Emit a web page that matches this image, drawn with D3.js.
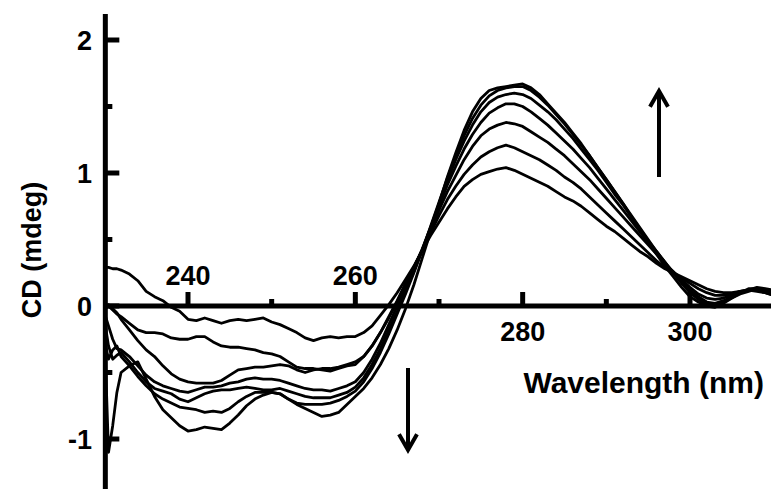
<!DOCTYPE html>
<html>
<head>
<meta charset="utf-8">
<script src="https://cdn.jsdelivr.net/npm/d3@7"></script>
<style>
  body { margin: 0; background: #fff; }
  svg { display: block; }
  text { font-family: "Liberation Sans", Arial, sans-serif; font-weight: bold; fill: #000; }
</style>
</head>
<body>
<svg width="771" height="489"></svg>
<script>
"use strict";

// wavelength (nm)
var wl = [230, 230.5, 231, 231.5, 232, 233, 234, 235, 236, 237, 238, 239, 240, 241, 242, 243, 244, 245, 246, 247, 248, 249,
  250, 251, 252, 253, 254, 255, 256, 257, 258, 259, 260, 261, 262, 263, 264, 265, 266, 267, 268, 269,
  270, 271, 272, 273, 274, 275, 276, 277, 278, 279, 280, 281, 282, 283, 284, 285, 286, 287, 288, 289,
  290, 291, 292, 293, 294, 295, 296, 297, 298, 299, 300, 301, 302, 303, 304, 305, 306, 307, 308, 309, 310];

// CD spectra (mdeg), one per titration step
var cdA = [0.29, 0.29, 0.28, 0.28, 0.27, 0.24, 0.19, 0.11, 0.07, 0.04, -0.01, -0.04, -0.10, -0.11, -0.09, -0.11, -0.13, -0.11, -0.10, -0.11, -0.10, -0.09,
  -0.12, -0.14, -0.17, -0.20, -0.24, -0.26, -0.24, -0.23, -0.24, -0.23, -0.23, -0.20, -0.15, -0.07, 0.01, 0.10, 0.20, 0.30, 0.42, 0.53,
  0.63, 0.73, 0.82, 0.90, 0.95, 0.99, 1.01, 1.03, 1.04, 1.02, 0.99, 0.96, 0.93, 0.90, 0.86, 0.82, 0.79, 0.75, 0.70, 0.65,
  0.60, 0.56, 0.51, 0.46, 0.41, 0.37, 0.32, 0.28, 0.25, 0.22, 0.19, 0.16, 0.13, 0.11, 0.10, 0.10, 0.11, 0.12, 0.12, 0.10, 0.08];
var cdB = [-0.02, 0.00, -0.03, -0.06, -0.08, -0.13, -0.18, -0.20, -0.20, -0.21, -0.24, -0.25, -0.25, -0.23, -0.23, -0.27, -0.30, -0.31, -0.31, -0.32, -0.33, -0.35,
  -0.36, -0.38, -0.42, -0.46, -0.47, -0.47, -0.48, -0.49, -0.47, -0.45, -0.44, -0.38, -0.30, -0.20, -0.08, 0.04, 0.17, 0.29, 0.42, 0.55,
  0.68, 0.80, 0.90, 0.99, 1.06, 1.12, 1.16, 1.19, 1.21, 1.19, 1.16, 1.13, 1.10, 1.06, 1.02, 0.97, 0.93, 0.88, 0.82, 0.76,
  0.70, 0.64, 0.58, 0.52, 0.46, 0.40, 0.34, 0.29, 0.25, 0.21, 0.17, 0.13, 0.10, 0.08, 0.08, 0.09, 0.11, 0.12, 0.11, 0.10, 0.08];
var cdC = [-0.03, 0.01, -0.02, -0.05, -0.10, -0.18, -0.26, -0.33, -0.38, -0.45, -0.51, -0.55, -0.57, -0.58, -0.58, -0.58, -0.56, -0.52, -0.48, -0.47, -0.46, -0.46,
  -0.45, -0.44, -0.45, -0.48, -0.50, -0.48, -0.47, -0.47, -0.46, -0.44, -0.42, -0.38, -0.30, -0.20, -0.09, 0.03, 0.16, 0.29, 0.42, 0.57,
  0.72, 0.86, 0.98, 1.10, 1.20, 1.28, 1.33, 1.36, 1.38, 1.37, 1.35, 1.31, 1.27, 1.23, 1.18, 1.13, 1.07, 1.01, 0.95, 0.88,
  0.81, 0.74, 0.67, 0.60, 0.53, 0.46, 0.39, 0.32, 0.26, 0.20, 0.14, 0.09, 0.06, 0.05, 0.06, 0.08, 0.11, 0.12, 0.12, 0.10, 0.09];
var cdD = [-0.05, -0.15, -0.25, -0.32, -0.33, -0.38, -0.45, -0.52, -0.57, -0.60, -0.62, -0.64, -0.65, -0.63, -0.61, -0.61, -0.60, -0.58, -0.57, -0.55, -0.54, -0.55,
  -0.55, -0.56, -0.58, -0.60, -0.62, -0.63, -0.63, -0.64, -0.62, -0.60, -0.57, -0.50, -0.40, -0.28, -0.14, 0.00, 0.14, 0.28, 0.43, 0.59,
  0.75, 0.91, 1.05, 1.18, 1.29, 1.38, 1.45, 1.49, 1.52, 1.52, 1.50, 1.46, 1.41, 1.36, 1.30, 1.24, 1.18, 1.11, 1.04, 0.96,
  0.88, 0.80, 0.72, 0.64, 0.56, 0.48, 0.40, 0.32, 0.25, 0.18, 0.12, 0.07, 0.03, 0.02, 0.04, 0.07, 0.10, 0.12, 0.13, 0.12, 0.10];
var cdE = [-0.10, -0.30, -0.40, -0.37, -0.35, -0.42, -0.50, -0.57, -0.62, -0.64, -0.66, -0.70, -0.72, -0.69, -0.66, -0.64, -0.63, -0.63, -0.62, -0.61, -0.62, -0.63,
  -0.63, -0.62, -0.64, -0.66, -0.68, -0.69, -0.69, -0.69, -0.67, -0.65, -0.61, -0.54, -0.44, -0.32, -0.18, -0.04, 0.11, 0.26, 0.42, 0.59,
  0.77, 0.94, 1.10, 1.24, 1.36, 1.46, 1.53, 1.57, 1.59, 1.60, 1.59, 1.56, 1.51, 1.46, 1.40, 1.33, 1.26, 1.18, 1.10, 1.02,
  0.93, 0.84, 0.76, 0.67, 0.58, 0.49, 0.41, 0.33, 0.25, 0.18, 0.11, 0.06, 0.02, 0.01, 0.03, 0.06, 0.10, 0.13, 0.13, 0.12, 0.11];
var cdF = [-0.25, -0.40, -0.33, -0.30, -0.38, -0.45, -0.53, -0.60, -0.66, -0.70, -0.73, -0.76, -0.77, -0.78, -0.80, -0.79, -0.80, -0.77, -0.72, -0.68, -0.65, -0.65,
  -0.65, -0.66, -0.70, -0.73, -0.74, -0.74, -0.74, -0.73, -0.71, -0.68, -0.64, -0.57, -0.47, -0.35, -0.21, -0.06, 0.09, 0.25, 0.42, 0.60,
  0.78, 0.96, 1.13, 1.28, 1.41, 1.51, 1.58, 1.62, 1.64, 1.65, 1.65, 1.62, 1.57, 1.51, 1.44, 1.37, 1.29, 1.21, 1.13, 1.04,
  0.95, 0.86, 0.77, 0.68, 0.59, 0.50, 0.41, 0.33, 0.25, 0.17, 0.10, 0.05, 0.01, 0.00, 0.03, 0.07, 0.10, 0.12, 0.14, 0.13, 0.12];
var cdG = [-0.15, -1.10, -0.90, -0.65, -0.50, -0.45, -0.42, -0.55, -0.68, -0.78, -0.84, -0.90, -0.94, -0.93, -0.91, -0.92, -0.93, -0.88, -0.82, -0.75, -0.70, -0.67,
  -0.65, -0.66, -0.70, -0.74, -0.77, -0.80, -0.83, -0.82, -0.80, -0.74, -0.68, -0.62, -0.54, -0.44, -0.32, -0.18, -0.02, 0.16, 0.36, 0.56,
  0.77, 0.97, 1.15, 1.32, 1.46, 1.56, 1.62, 1.64, 1.65, 1.66, 1.67, 1.64, 1.59, 1.52, 1.45, 1.38, 1.30, 1.22, 1.13, 1.04,
  0.95, 0.86, 0.77, 0.67, 0.58, 0.48, 0.39, 0.30, 0.22, 0.14, 0.07, 0.03, 0.00, -0.01, 0.02, 0.06, 0.09, 0.11, 0.13, 0.12, 0.11];

var series = [cdA, cdB, cdC, cdD, cdE, cdF, cdG];

// axis ticks
var xMajor = [240, 260, 280, 300];
var xMinor = [250, 270, 290, 310];
var xLabelsAbove = [240, 260];
var yMajor = [-1, 0, 1, 2];
var yMinor = [-0.5, 0.5, 1.5];

var W = 771, H = 489;
var svg = d3.select("svg");

var x = d3.scaleLinear().domain([240, 300]).range([188, 690]);
var y = d3.scaleLinear().domain([-1, 2]).range([439, 40]);
var x0 = x(230) + 1;   // y axis position
var y0 = y(0);         // x axis sits on zero

svg.append("defs").append("clipPath").attr("id", "plot")
  .append("rect").attr("x", x0).attr("y", 0).attr("width", W - x0).attr("height", H);

// spectra
var line = d3.line()
  .x(function(d, i) {return x(wl[i]);})
  .y(function(d) {return y(d);});

svg.append("g").attr("clip-path", "url(#plot)")
  .selectAll("path").data(series).join("path")
  .attr("d", line)
  .attr("fill", "none")
  .attr("stroke", "#000")
  .attr("stroke-width", 2.8)
  .attr("stroke-linejoin", "round");

// x axis (zero line), ticks pointing up
var xa = svg.append("g");
xa.append("line").attr("x1", x0).attr("x2", W).attr("y1", y0).attr("y2", y0)
  .attr("stroke", "#000").attr("stroke-width", 5);
xa.selectAll("line.maj").data(xMajor).join("line").attr("class", "maj")
  .attr("x1", d => x(d)).attr("x2", d => x(d))
  .attr("y1", y0).attr("y2", y0 - 14)
  .attr("stroke", "#000").attr("stroke-width", 5);
xa.selectAll("line.min").data(xMinor).join("line").attr("class", "min")
  .attr("x1", d => x(d)).attr("x2", d => x(d))
  .attr("y1", y0).attr("y2", y0 - 7)
  .attr("stroke", "#000").attr("stroke-width", 5);
xa.selectAll("text").data(xMajor).join("text")
  .attr("x", d => x(d))
  .attr("y", d => xLabelsAbove.includes(d) ? y0 - 21 : y0 + 35)
  .attr("text-anchor", "middle")
  .attr("font-size", 27)
  .text(d => d);

// y axis, ticks pointing right
var ya = svg.append("g");
ya.append("line").attr("x1", x0).attr("x2", x0).attr("y1", 14).attr("y2", H)
  .attr("stroke", "#000").attr("stroke-width", 5);
ya.selectAll("line.maj").data(yMajor).join("line").attr("class", "maj")
  .attr("x1", x0).attr("x2", x0 + 14)
  .attr("y1", d => y(d)).attr("y2", d => y(d))
  .attr("stroke", "#000").attr("stroke-width", 5);
ya.selectAll("line.min").data(yMinor).join("line").attr("class", "min")
  .attr("x1", x0).attr("x2", x0 + 7)
  .attr("y1", d => y(d)).attr("y2", d => y(d))
  .attr("stroke", "#000").attr("stroke-width", 5);
ya.selectAll("text").data(yMajor).join("text")
  .attr("x", 92)
  .attr("y", d => y(d) + 10)
  .attr("text-anchor", "end")
  .attr("font-size", 27)
  .text(d => d);

// axis titles
svg.append("text")
  .attr("transform", "translate(41," + 250 + ") rotate(-90)")
  .attr("text-anchor", "middle")
  .attr("font-size", 27)
  .text("CD (mdeg)");
svg.append("text")
  .attr("x", 764).attr("y", 393)
  .attr("text-anchor", "end")
  .attr("font-size", 30)
  .text("Wavelength (nm)");

// arrows showing the titration trend
function arrow(xp, yFrom, yTo) {
  var dir = yTo < yFrom ? 1 : -1;
  var g = svg.append("g").attr("stroke", "#000").attr("stroke-width", 4).attr("fill", "none");
  g.append("line").attr("x1", xp).attr("x2", xp).attr("y1", yFrom).attr("y2", yTo);
  g.append("path")
    .attr("d", "M" + (xp - 8) + "," + (yTo + dir * 14) + "L" + xp + "," + yTo + "L" + (xp + 8) + "," + (yTo + dir * 14))
    .attr("stroke-linecap", "square");
}
arrow(659, 177, 91);
arrow(408, 368, 450);
</script>
</body>
</html>
